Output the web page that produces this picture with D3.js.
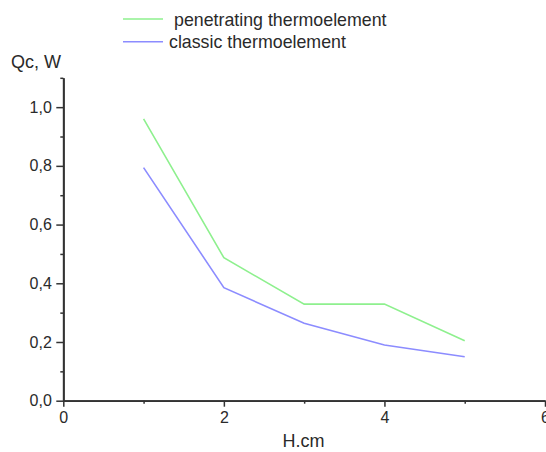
<!DOCTYPE html>
<html><head><meta charset="utf-8">
<script src="https://cdn.jsdelivr.net/npm/d3@7"></script>
<style>body{margin:0;background:#fff}svg{display:block}text{font-family:"Liberation Sans",Arial,sans-serif;fill:#2a2a2a}</style>
</head><body>
<svg id="c" width="546" height="452"></svg>
<script>
const hValues = [1, 2, 3, 4, 5];
const penetrating = [0.96, 0.487, 0.329, 0.329, 0.204];
const classic = [0.794, 0.385, 0.264, 0.19, 0.15];
const seriesNames = ["penetrating thermoelement", "classic thermoelement"];
const seriesColors = ["#8ef08e", "#8c8cff"];
const xMajorTicks = [0, 2, 4, 6];
const xMinorTicks = [1, 3, 5];
const yMajorTicks = [0, 0.2, 0.4, 0.6, 0.8, 1.0];
const yMinorTicks = [0.1, 0.3, 0.5, 0.7, 0.9, 1.1];

const svg = d3.select("#c");
const x = d3.scaleLinear().domain([0, 6]).range([63.3, 545]);
const y = d3.scaleLinear().domain([0, 1.1]).range([400.7, 77.8]);
const fmt = v => d3.format(".1f")(v).replace(".", ",");
const axisColor = "#333";
const fontFam = "Liberation Sans, Arial, sans-serif";

// X axis
const gx = svg.append("g").attr("transform", `translate(0,${y(0)})`);
gx.call(d3.axisBottom(x).tickValues(xMajorTicks).tickSize(6).tickSizeOuter(0).tickFormat(d3.format("d")));
gx.append("g").call(d3.axisBottom(x).tickValues(xMinorTicks).tickSize(3).tickSizeOuter(0).tickFormat(""));
gx.selectAll("path.domain").attr("stroke", axisColor).attr("stroke-width", 1.8);
gx.selectAll(".tick line").attr("stroke", axisColor).attr("stroke-width", 1.5);
gx.selectAll(".tick text").attr("font-size", 16).attr("font-family", fontFam).attr("fill", "#2a2a2a")
  .attr("y", 22.5).attr("dy", 0);

// Y axis
const gy = svg.append("g").attr("transform", `translate(${x(0)},0)`);
gy.call(d3.axisLeft(y).tickValues(yMajorTicks).tickSize(7).tickSizeOuter(0).tickFormat(fmt));
gy.append("g").call(d3.axisLeft(y).tickValues(yMinorTicks).tickSize(3).tickSizeOuter(0).tickFormat(""));
gy.selectAll("path.domain").attr("stroke", axisColor).attr("stroke-width", 1.8);
gy.selectAll(".tick line").attr("stroke", axisColor).attr("stroke-width", 1.5);
gy.selectAll(".tick text").attr("font-size", 16).attr("font-family", fontFam).attr("fill", "#2a2a2a").attr("x", -11.5);

// Lines
const line = d3.line().x((d, i) => x(hValues[i])).y(d => y(d));
[penetrating, classic].forEach((s, i) => {
  svg.append("path").datum(s).attr("d", line).attr("fill", "none")
    .attr("stroke", seriesColors[i]).attr("stroke-width", 1.6);
});

// Axis titles
svg.append("text").attr("x", 11).attr("y", 68).attr("font-size", 18).text("Qc, W");
svg.append("text").attr("x", 303.5).attr("y", 447).attr("text-anchor", "middle").attr("font-size", 18).text("H.cm");

// Legend
const legY = [19, 41.7];
const legTextX = [174, 169];
seriesNames.forEach((n, i) => {
  svg.append("line").attr("x1", 123).attr("x2", 163).attr("y1", legY[i]).attr("y2", legY[i])
    .attr("stroke", seriesColors[i]).attr("stroke-width", 1.6);
  svg.append("text").attr("x", legTextX[i]).attr("y", legY[i] + 6.5).attr("font-size", 17.8).text(n);
});
</script>
</body></html>
